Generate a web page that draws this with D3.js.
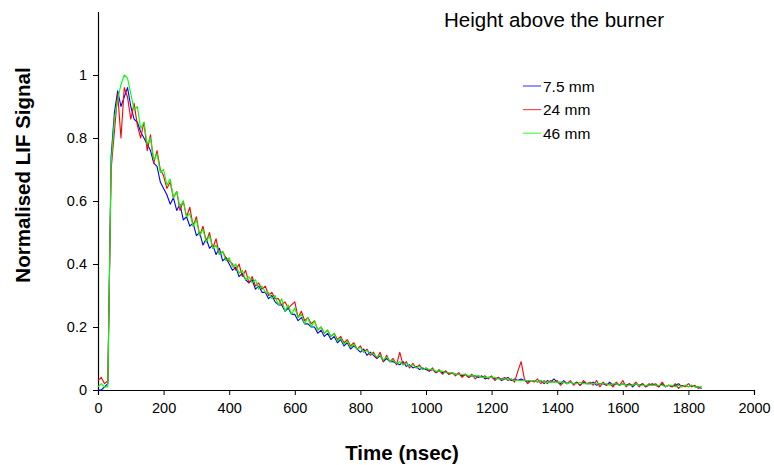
<!DOCTYPE html>
<html><head><meta charset="utf-8">
<script src="https://cdn.jsdelivr.net/npm/d3@7"></script>
<style>body{margin:0;background:#fff}svg{display:block;font-family:"Liberation Sans",Arial,sans-serif}</style>
</head><body><svg id="c" width="774" height="465"></svg>
<script>
const sampleStep = 10; // nsec between samples
const seriesNames = ["7.5 mm", "24 mm", "46 mm"];
const seriesColors = ["#0000ff", "#ff0000", "#00ff00"];
const xTicks = [0,200,400,600,800,1000,1200,1400,1600,1800,2000];
const yTicks = [0,0.2,0.4,0.6,0.8,1];
const blue = [
0.00,0.00,0.01,0.02,0.74,0.88,0.95,0.90,0.93,0.96,
0.90,0.86,0.85,0.82,0.80,0.78,0.76,0.72,0.71,0.66,
0.64,0.62,0.59,0.61,0.57,0.59,0.54,0.55,0.52,0.53,
0.49,0.50,0.46,0.48,0.45,0.46,0.43,0.45,0.41,0.42,
0.40,0.38,0.39,0.36,0.37,0.35,0.34,0.35,0.32,0.33,
0.31,0.31,0.29,0.30,0.28,0.27,0.27,0.25,0.26,0.24,
0.24,0.22,0.23,0.21,0.21,0.20,0.20,0.18,0.19,0.17,
0.18,0.16,0.17,0.15,0.16,0.14,0.15,0.13,0.14,0.13,
0.12,0.13,0.11,0.12,0.11,0.10,0.11,0.09,0.10,0.09,
0.09,0.085,0.08,0.09,0.075,0.08,0.07,0.075,0.065,0.07,
0.065,0.06,0.065,0.055,0.06,0.055,0.06,0.05,0.055,0.05,
0.05,0.045,0.05,0.04,0.045,0.045,0.04,0.045,0.035,0.04,
0.04,0.035,0.04,0.03,0.035,0.04,0.03,0.035,0.03,0.035,
0.03,0.025,0.03,0.03,0.025,0.03,0.02,0.03,0.025,0.035,
0.025,0.02,0.03,0.02,0.025,0.02,0.025,0.015,0.025,0.02,
0.02,0.025,0.015,0.02,0.02,0.015,0.025,0.015,0.02,0.015,
0.02,0.015,0.02,0.01,0.02,0.015,0.02,0.01,0.015,0.02,
0.015,0.01,0.02,0.01,0.015,0.01,0.015,0.02,0.01,0.015,
0.01,0.015,0.01,0.01,0.005];
const red = [
0.03,0.04,0.02,0.03,0.70,0.82,0.94,0.80,0.96,0.93,
0.86,0.91,0.84,0.80,0.85,0.76,0.81,0.72,0.76,0.70,
0.68,0.64,0.66,0.61,0.63,0.57,0.60,0.55,0.58,0.52,
0.55,0.49,0.52,0.47,0.50,0.45,0.48,0.43,0.44,0.42,
0.41,0.40,0.38,0.40,0.36,0.38,0.34,0.36,0.33,0.34,
0.32,0.33,0.30,0.31,0.29,0.29,0.27,0.28,0.26,0.27,
0.28,0.23,0.25,0.22,0.23,0.21,0.22,0.19,0.20,0.18,
0.19,0.17,0.18,0.16,0.17,0.15,0.16,0.14,0.15,0.13,
0.14,0.12,0.13,0.11,0.12,0.10,0.12,0.09,0.11,0.09,
0.10,0.08,0.12,0.08,0.09,0.07,0.085,0.07,0.08,0.065,
0.07,0.06,0.07,0.055,0.065,0.05,0.06,0.05,0.055,0.045,
0.055,0.04,0.05,0.04,0.05,0.035,0.045,0.04,0.045,0.035,
0.045,0.03,0.04,0.035,0.04,0.03,0.035,0.025,0.06,0.09,
0.035,0.02,0.03,0.025,0.035,0.02,0.03,0.02,0.03,0.025,
0.03,0.015,0.025,0.02,0.03,0.015,0.025,0.015,0.03,0.02,
0.025,0.015,0.03,0.01,0.025,0.015,0.02,0.01,0.025,0.015,
0.03,0.01,0.02,0.015,0.025,0.01,0.02,0.01,0.02,0.015,
0.02,0.01,0.025,0.01,0.015,0.01,0.02,0.005,0.015,0.01,
0.02,0.01,0.015,0.005,0.01];
const green = [
0.01,0.02,0.01,0.01,0.72,0.86,0.92,0.97,1.00,0.99,
0.94,0.89,0.90,0.83,0.85,0.78,0.80,0.73,0.75,0.69,
0.70,0.65,0.67,0.61,0.63,0.58,0.60,0.55,0.56,0.52,
0.54,0.49,0.51,0.47,0.49,0.45,0.46,0.43,0.44,0.41,
0.42,0.39,0.40,0.37,0.38,0.35,0.36,0.34,0.35,0.32,
0.33,0.31,0.31,0.29,0.30,0.27,0.29,0.25,0.27,0.24,
0.26,0.23,0.24,0.21,0.23,0.20,0.22,0.19,0.20,0.18,
0.19,0.17,0.18,0.155,0.165,0.145,0.155,0.135,0.145,0.13,
0.135,0.12,0.125,0.115,0.115,0.105,0.11,0.095,0.105,0.09,
0.095,0.085,0.09,0.08,0.085,0.075,0.08,0.07,0.075,0.065,
0.07,0.065,0.065,0.06,0.06,0.06,0.055,0.055,0.055,0.05,
0.05,0.05,0.05,0.045,0.045,0.045,0.045,0.04,0.04,0.04,
0.04,0.04,0.035,0.035,0.035,0.035,0.035,0.03,0.03,0.03,
0.03,0.03,0.03,0.03,0.025,0.03,0.025,0.025,0.025,0.025,
0.025,0.025,0.025,0.02,0.025,0.02,0.02,0.025,0.02,0.02,
0.02,0.02,0.02,0.02,0.02,0.02,0.015,0.02,0.02,0.015,
0.02,0.015,0.015,0.015,0.02,0.015,0.015,0.015,0.015,0.015,
0.015,0.015,0.015,0.01,0.015,0.015,0.01,0.015,0.01,0.015,
0.01,0.015,0.01,0.01,0.01];
const series = [blue, red, green];

const svg = d3.select("#c");
const x = d3.scaleLinear().domain([0,2000]).range([98,754]);
const y = d3.scaleLinear().domain([0,1.2]).range([390,12]);

const fmt = d => (d === 0 || d === 1) ? String(d) : d3.format(".1f")(d);
const gx = svg.append("g").attr("transform","translate(0,390)")
  .call(d3.axisBottom(x).tickValues(xTicks).tickSize(5).tickPadding(8).tickFormat(d3.format("d")));
const gy = svg.append("g").attr("transform","translate(98,0)")
  .call(d3.axisLeft(y).tickValues(yTicks).tickSize(5).tickPadding(6).tickFormat(fmt));
[gx, gy].forEach(g => {
  g.select(".domain").attr("stroke","#000").attr("stroke-width",1.2);
  g.selectAll(".tick line").attr("stroke","#000");
  g.selectAll(".tick text").attr("font-size",14.5).attr("fill","#000").attr("font-family","Liberation Sans, Arial, sans-serif");
});
gy.select(".domain").attr("d","M0.5,12V390.5");

const line = d3.line().x((d,i) => x(i*sampleStep)).y(d => y(d));
series.forEach((s,k) => {
  svg.append("path").datum(s).attr("d", line).attr("fill","none")
    .attr("stroke", seriesColors[k]).attr("stroke-width",1.1).attr("stroke-linejoin","round");
});

svg.append("text").attr("x",402).attr("y",460).attr("text-anchor","middle")
  .attr("font-size",20.5).attr("font-weight","bold").text("Time (nsec)");
svg.append("text").attr("transform","translate(30,175) rotate(-90)").attr("text-anchor","middle")
  .attr("font-size",20.5).attr("font-weight","bold").text("Normalised LIF Signal");
svg.append("text").attr("x",554).attr("y",27).attr("text-anchor","middle")
  .attr("font-size",20.5).text("Height above the burner");

const lg = svg.append("g");
seriesNames.forEach((n,k) => {
  const yy = 86 + k*23.6;
  lg.append("line").attr("x1",523).attr("x2",541).attr("y1",yy).attr("y2",yy)
    .attr("stroke",seriesColors[k]).attr("stroke-width",1.2).attr("opacity",0.7);
  lg.append("text").attr("x",543).attr("y",yy+5.5).attr("font-size",15.5).text(n);
});
</script></body></html>
